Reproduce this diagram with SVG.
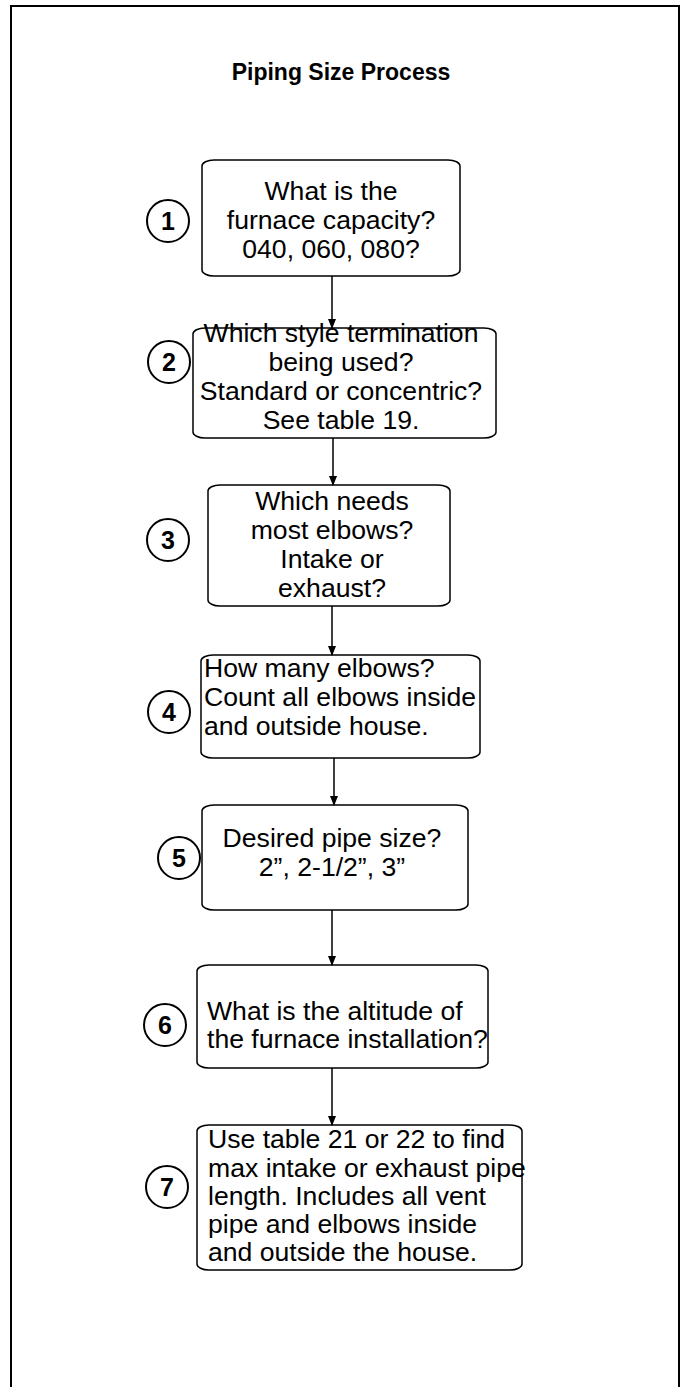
<svg xmlns="http://www.w3.org/2000/svg" width="683" height="1387" viewBox="0 0 683 1387">
<style>
.box{fill:#fff;stroke:#000;stroke-width:1.5}
.t{font-family:"Liberation Sans",Arial,sans-serif;font-size:26.6px;fill:#000}
.c{text-anchor:middle}
.num circle{fill:#fff;stroke:#000;stroke-width:2}
.num text{font-family:"Liberation Sans",Arial,sans-serif;font-size:25px;font-weight:bold;text-anchor:middle;fill:#000}
.conn line{stroke:#000;stroke-width:1.5}
</style>
<defs>
<marker id="ah" markerWidth="10" markerHeight="10" refX="9" refY="5" orient="auto" markerUnits="userSpaceOnUse">
<path d="M0,1 L10,5 L0,9 Z" fill="#000"/>
</marker>
</defs>
<rect width="683" height="1387" fill="#fff"/>
<path d="M11,1387 V6 H679 V1387" fill="none" stroke="#000" stroke-width="2"/>
<text x="341" y="80" font-family="Liberation Sans,Arial,sans-serif" font-size="23" font-weight="bold" text-anchor="middle">Piping Size Process</text>

<g id="step1">
<rect class="box" x="202" y="160" width="258" height="116" rx="12" ry="6"/>
<text class="t c" x="331" y="200">What is the</text>
<text class="t c" x="331" y="229">furnace capacity?</text>
<text class="t c" x="331" y="258">040, 060, 080?</text>
<g class="num"><circle cx="168" cy="221" r="21"/><text x="168" y="230">1</text></g>
</g>

<g id="step2">
<rect class="box" x="193" y="328" width="303" height="110" rx="12" ry="6"/>
<text class="t c" x="341" y="342">Which style termination</text>
<text class="t c" x="341" y="371">being used?</text>
<text class="t c" x="341" y="400">Standard or concentric?</text>
<text class="t c" x="341" y="429">See table 19.</text>
<g class="num"><circle cx="169" cy="362" r="21"/><text x="169" y="371">2</text></g>
</g>

<g id="step3">
<rect class="box" x="208" y="485" width="242" height="121" rx="12" ry="6"/>
<text class="t c" x="332" y="510">Which needs</text>
<text class="t c" x="332" y="539">most elbows?</text>
<text class="t c" x="332" y="568">Intake or</text>
<text class="t c" x="332" y="597">exhaust?</text>
<g class="num"><circle cx="168" cy="540" r="21"/><text x="168" y="549">3</text></g>
</g>

<g id="step4">
<rect class="box" x="201" y="655" width="279" height="103" rx="12" ry="6"/>
<text class="t" x="204" y="677">How many elbows?</text>
<text class="t" x="204" y="706">Count all elbows inside</text>
<text class="t" x="204" y="735">and outside house.</text>
<g class="num"><circle cx="169" cy="712" r="21"/><text x="169" y="721">4</text></g>
</g>

<g id="step5">
<rect class="box" x="202" y="805" width="266" height="105" rx="12" ry="6"/>
<text class="t c" x="332" y="847">Desired pipe size?</text>
<text class="t c" x="332" y="876">2”, 2-1/2”, 3”</text>
<g class="num"><circle cx="179" cy="858" r="21"/><text x="179" y="867">5</text></g>
</g>

<g id="step6">
<rect class="box" x="197" y="965" width="291" height="103" rx="12" ry="6"/>
<text class="t" x="207" y="1020">What is the altitude of</text>
<text class="t" x="207" y="1048">the furnace installation?</text>
<g class="num"><circle cx="165" cy="1025" r="21"/><text x="165" y="1034">6</text></g>
</g>

<g id="step7">
<rect class="box" x="197" y="1125" width="325" height="145" rx="12" ry="6"/>
<text class="t" x="208" y="1148">Use table 21 or 22 to find</text>
<text class="t" x="208" y="1177">max intake or exhaust pipe</text>
<text class="t" x="208" y="1205">length. Includes all vent</text>
<text class="t" x="208" y="1233">pipe and elbows inside</text>
<text class="t" x="208" y="1261">and outside the house.</text>
<g class="num"><circle cx="167" cy="1187" r="21"/><text x="167" y="1196">7</text></g>
</g>

<g id="connectors" class="conn">
<line x1="332" y1="276" x2="332" y2="328" marker-end="url(#ah)"/>
<line x1="333" y1="438" x2="333" y2="485" marker-end="url(#ah)"/>
<line x1="332" y1="606" x2="332" y2="655" marker-end="url(#ah)"/>
<line x1="334" y1="758" x2="334" y2="805" marker-end="url(#ah)"/>
<line x1="332" y1="910" x2="332" y2="965" marker-end="url(#ah)"/>
<line x1="332" y1="1068" x2="332" y2="1125" marker-end="url(#ah)"/>
</g>
</svg>
